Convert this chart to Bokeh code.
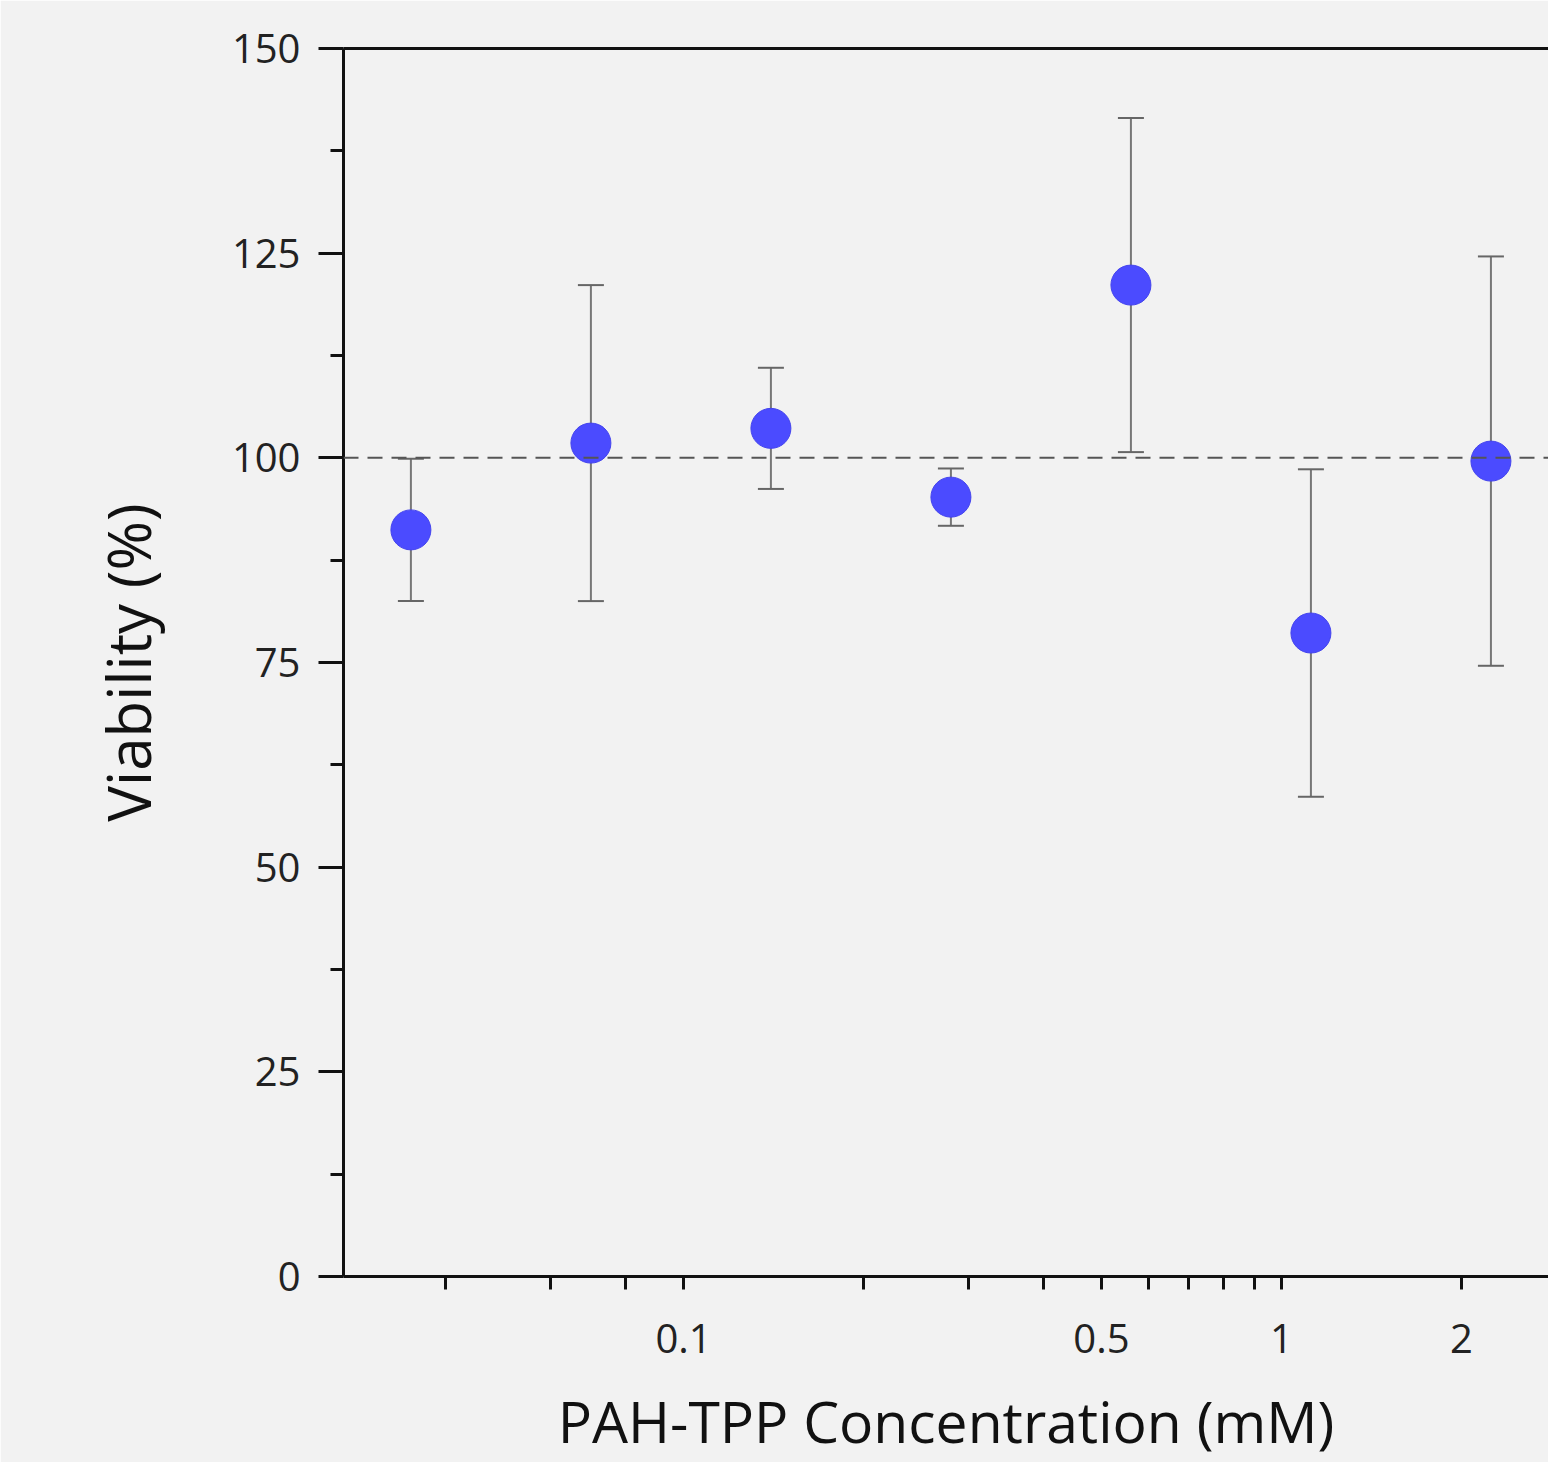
from bokeh.plotting import figure
from bokeh.models import (FixedTicker, LogAxis, Span, ColumnDataSource,
                          Range1d, CustomJSTickFormatter)
from bokeh.embed import file_html
from bokeh.resources import INLINE

# ---- data ----
concentration = [0.035, 0.07, 0.14, 0.28, 0.56, 1.12, 2.24]   # mM
viability = [91.2, 101.8, 103.6, 95.2, 121.1, 78.6, 99.6]      # %
viability_sd = [8.7, 19.3, 7.4, 3.5, 20.4, 20.0, 25.0]          # %
reference_level = 100

x_major_ticks = [0.1, 0.5, 1, 2]
x_long_ticks = [0.1, 1]
x_minor_ticks = [0.04, 0.06, 0.08, 0.2, 0.3, 0.4, 0.6, 0.7, 0.8, 0.9]
y_major_ticks = [0, 25, 50, 75, 100, 125, 150]
y_minor_ticks = [12.5, 37.5, 62.5, 87.5, 112.5, 137.5]

lower = [v - s for v, s in zip(viability, viability_sd)]
upper = [v + s for v, s in zip(viability, viability_sd)]
src = ColumnDataSource(dict(x=concentration, y=viability, lo=lower, hi=upper))

BG = "#f2f2f2"
FONT = "Open Sans"
INK = "#111111"

p = figure(width=1548, height=1462, x_axis_type="log",
           x_range=Range1d(0.0270, 2.796), y_range=Range1d(0, 150),
           output_backend="svg", toolbar_location=None,
           min_border_left=343, min_border_right=0, min_border_top=48,
           min_border_bottom=185,
           background_fill_color=BG, border_fill_color=BG,
           outline_line_color=None)
p.grid.visible = False

# x axis
xa = p.xaxis[0]
xa.ticker = FixedTicker(ticks=x_major_ticks, minor_ticks=x_minor_ticks)
xa.formatter = CustomJSTickFormatter(code="return tick.toString();")
xa.axis_line_width = 3
xa.axis_line_color = INK
xa.major_tick_line_width = 3
xa.minor_tick_line_width = 3
xa.major_tick_line_color = INK
xa.minor_tick_line_color = INK
xa.major_tick_in = 0
xa.minor_tick_in = 0
xa.major_tick_out = 13
xa.minor_tick_out = 13
xa.major_label_standoff = 34
xa.major_label_text_font = FONT
xa.major_label_text_font_size = "40px"
xa.major_label_text_color = "#222222"
xa.axis_label = "PAH-TPP Concentration (mM)"
xa.axis_label_text_font = FONT
xa.axis_label_text_font_size = "57px"
xa.axis_label_text_font_style = "normal"
xa.axis_label_text_color = INK
xa.axis_label_standoff = 26

# longer ticks at the decades
ax_long = LogAxis(fixed_location=0,
                  ticker=FixedTicker(ticks=x_long_ticks, minor_ticks=[]),
                  axis_line_color=None, major_tick_in=0, major_tick_out=25,
                  major_tick_line_width=3, major_tick_line_color=INK,
                  minor_tick_line_color=None, major_label_text_alpha=0,
                  major_label_text_font_size="1px")
p.add_layout(ax_long, "below")

# top border
ax_top = LogAxis(ticker=FixedTicker(ticks=[], minor_ticks=[]),
                 axis_line_width=3, axis_line_color=INK,
                 major_tick_out=0, major_tick_in=0, minor_tick_out=0,
                 minor_tick_in=0, major_label_text_font_size="1px")
p.add_layout(ax_top, "above")

# y axis
ya = p.yaxis[0]
ya.ticker = FixedTicker(ticks=y_major_ticks, minor_ticks=y_minor_ticks)
ya.axis_line_width = 3
ya.axis_line_color = INK
ya.major_tick_line_width = 3
ya.minor_tick_line_width = 3
ya.major_tick_line_color = INK
ya.minor_tick_line_color = INK
ya.major_tick_in = 0
ya.minor_tick_in = 0
ya.major_tick_out = 25
ya.minor_tick_out = 13
ya.major_label_standoff = 18
ya.major_label_text_font = FONT
ya.major_label_text_font_size = "40px"
ya.major_label_text_color = "#222222"
ya.axis_label = "Viability (%)"
ya.axis_label_text_font = FONT
ya.axis_label_text_font_size = "60px"
ya.axis_label_text_font_style = "normal"
ya.axis_label_text_color = INK
ya.axis_label_standoff = 60

# reference line
p.add_layout(Span(location=reference_level, dimension="width",
                  line_color="#555555", line_width=2, line_dash="15 9"))

# error bars
p.segment(x0="x", y0="lo", x1="x", y1="hi", source=src,
          line_color="#777777", line_width=2)
p.scatter(x="x", y="lo", source=src, marker="dash", size=26,
          line_color="#666666", line_width=2)
p.scatter(x="x", y="hi", source=src, marker="dash", size=26,
          line_color="#666666", line_width=2)

# points
p.scatter(x="x", y="y", source=src, marker="circle", size=40,
          fill_color="#4b4bff", line_color="#4444ee", line_width=1)

open("out.html", "w").write(file_html(p, INLINE))
